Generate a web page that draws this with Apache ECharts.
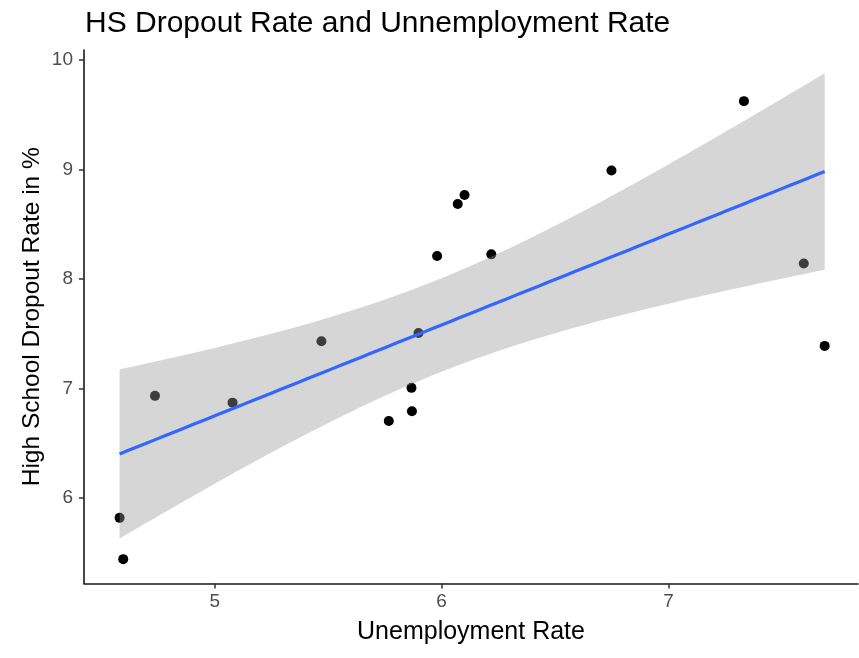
<!DOCTYPE html>
<html>
<head>
<meta charset="utf-8">
<script src="https://cdn.jsdelivr.net/npm/echarts@6/dist/echarts.min.js"></script>
<style>
  html, body { margin: 0; padding: 0; background: #ffffff; }
  #chart { width: 859px; height: 658px; }
</style>
</head>
<body>
<div id="chart"></div>
<script>
// Unemployment rate (x) and high school dropout rate in % (y), one point per observation
const unemployment = [4.596, 4.580, 4.736, 5.078, 5.470, 5.767, 5.867, 5.869, 5.898,
                      5.980, 6.071, 6.101, 6.219, 6.749, 7.333, 7.597, 7.689];
const dropout      = [5.441, 5.818, 6.932, 6.870, 7.430, 6.703, 7.005, 6.791, 7.506,
                      8.209, 8.683, 8.766, 8.224, 8.990, 9.623, 8.141, 7.388];

const xTicks = [5, 6, 7];
const yTicks = [6, 7, 8, 9, 10];

// Ordinary least squares fit with a 95% confidence band (geom_smooth style)
const n = unemployment.length;
const mx = unemployment.reduce((a, b) => a + b, 0) / n;
const my = dropout.reduce((a, b) => a + b, 0) / n;
let sxx = 0, sxy = 0;
for (let i = 0; i < n; i++) {
  sxx += (unemployment[i] - mx) ** 2;
  sxy += (unemployment[i] - mx) * (dropout[i] - my);
}
const slope = sxy / sxx;
const intercept = my - slope * mx;
let sse = 0;
for (let i = 0; i < n; i++) {
  const r = dropout[i] - (intercept + slope * unemployment[i]);
  sse += r * r;
}
const sigma = Math.sqrt(sse / (n - 2));
const tCrit = 2.131; // t quantile, 0.975, df = 15

const xLo = Math.min(...unemployment), xHi = Math.max(...unemployment);
const steps = 80;
const fitLine = [], band = [];
for (let k = 0; k < steps; k++) {
  const x = xLo + (xHi - xLo) * k / (steps - 1);
  const yHat = intercept + slope * x;
  const se = sigma * Math.sqrt(1 / n + (x - mx) ** 2 / sxx);
  fitLine.push([x, yHat]);
  band.push([x, yHat - tCrit * se, yHat + tCrit * se]);
}

const points = unemployment.map((x, i) => [x, dropout[i]]);

// The band is one filled polygon: upper edge left to right, lower edge back
function renderBand(params, api) {
  if (params.dataIndex !== 0) return null;
  const upper = band.map(d => api.coord([d[0], d[2]]));
  const lower = band.map(d => api.coord([d[0], d[1]])).reverse();
  return {
    type: 'polygon',
    shape: { points: upper.concat(lower) },
    style: { fill: '#999999', opacity: 0.4 },
    silent: true
  };
}

const font = 'Liberation Sans, Arial, sans-serif';
const chart = echarts.init(document.getElementById('chart'), null, { renderer: 'canvas' });
chart.setOption({
  animation: false,
  backgroundColor: '#ffffff',
  title: {
    text: 'HS Dropout Rate and Unnemployment Rate',
    left: 80,
    top: 4,
    textStyle: { fontFamily: font, fontSize: 30, fontWeight: 'normal', color: '#000000' }
  },
  grid: { left: 84, right: 1, top: 50, bottom: 74.5 },
  xAxis: {
    type: 'value',
    min: 4.423,
    max: 7.836,
    name: 'Unemployment Rate',
    nameLocation: 'middle',
    nameGap: 36,
    nameMoveOverlap: false,
    nameTextStyle: { fontFamily: font, fontSize: 25, color: '#000000' },
    axisLine: { show: true, lineStyle: { color: '#1a1a1a', width: 1.6 } },
    axisTick: { show: true, customValues: xTicks, length: 5, lineStyle: { color: '#333333', width: 1.5 } },
    axisLabel: { customValues: xTicks, margin: 9, fontFamily: font, fontSize: 19, color: '#4d4d4d' },
    splitLine: { show: false }
  },
  yAxis: {
    type: 'value',
    min: 5.2185,
    max: 10.09,
    name: 'High School Dropout Rate in %',
    nameLocation: 'middle',
    nameRotate: 90,
    nameGap: 39,
    nameMoveOverlap: false,
    nameTextStyle: { fontFamily: font, fontSize: 24.5, color: '#000000' },
    axisLine: { show: true, lineStyle: { color: '#1a1a1a', width: 1.6 } },
    axisTick: { show: true, customValues: yTicks, length: 5, lineStyle: { color: '#333333', width: 1.5 } },
    axisLabel: { customValues: yTicks, margin: 11, fontFamily: font, fontSize: 19, color: '#4d4d4d' },
    splitLine: { show: false }
  },
  series: [
    {
      name: 'observations',
      type: 'scatter',
      z: 1,
      data: points,
      symbol: 'circle',
      symbolSize: 10,
      itemStyle: { color: '#000000', opacity: 1 },
      silent: true
    },
    {
      name: 'band',
      type: 'custom',
      z: 2,
      data: band,
      renderItem: renderBand,
      silent: true
    },
    {
      name: 'fit',
      type: 'line',
      z: 3,
      data: fitLine,
      showSymbol: false,
      lineStyle: { color: '#3366FF', width: 3.2 },
      silent: true
    }
  ]
});
</script>
</body>
</html>
